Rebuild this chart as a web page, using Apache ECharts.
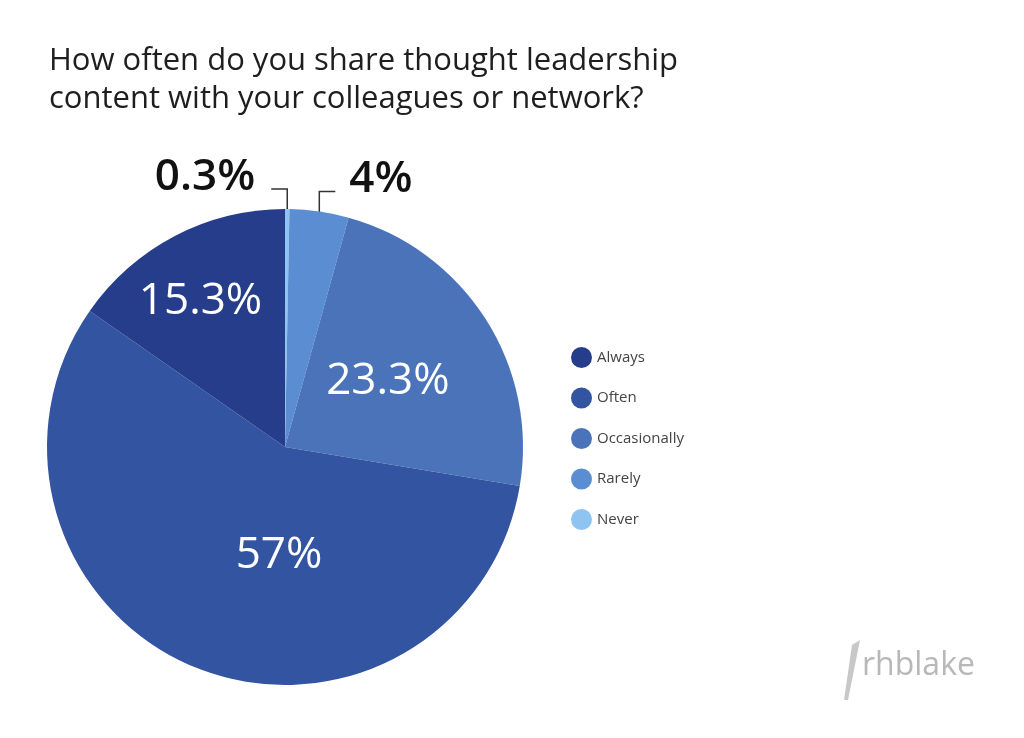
<!DOCTYPE html>
<html><head><meta charset="utf-8">
<script src="https://cdn.jsdelivr.net/npm/echarts@6/dist/echarts.min.js"></script>
<style>html,body{margin:0;padding:0;background:#fff}#c{width:1024px;height:738px}</style>
</head><body><div id="c"></div>
<script>
const categories = ['Never','Rarely','Occasionally','Often','Always'];
const values = [0.3, 4, 23.3, 57, 15.3];
const labels = ['0.3%','4%','23.3%','57%','15.3%'];
const legendOrder = ['Always','Often','Occasionally','Rarely','Never'];
const colors = {Never:'#8ec3f2',Rarely:'#5b8dd2',Occasionally:'#4a73ba',Often:'#3354a0',Always:'#253d8a'};
const chart = echarts.init(document.getElementById('c'));
const F = '"Open Sans", Lato, sans-serif';
const shifts = {2:[0,0],3:[40,-5],4:[-28,-37]};
chart.setOption({
  animation:false,
  title:{text:'How often do you share thought leadership\ncontent with your colleagues or network?',left:44,top:37,
    textStyle:{fontFamily:F,fontSize:31,fontWeight:'normal',color:'#1e1e1e',lineHeight:38}},
  legend:{data:legendOrder,orient:'vertical',left:566,top:342,itemGap:19.5,icon:'circle',itemWidth:21,itemHeight:21,
    textStyle:{fontFamily:F,fontSize:15,color:'#444'}},
  graphic:[{type:'text',left:862,top:650,style:{text:'rhblake',font:'32px '+F,fill:'#b8b8b8'}},
    {type:'polygon',shape:{points:[[852,645],[860,640],[848,700],[844,700]]},style:{fill:'#c8c8c8'}}],
  series:[{type:'pie',center:[285,447],radius:238,startAngle:90,clockwise:true,
    data:categories.map((c,i)=>{
      const small = values[i] < 5;
      return {name:c,value:values[i],itemStyle:{color:colors[c]},
        label:{show:true,formatter:labels[i],position:small?'outside':'inside',
          fontFamily:F,fontSize:44,color:small?'#111':'#fff',fontWeight:small?600:'normal'},
        labelLine:{show:small,lineStyle:{color:'#333',width:1.5}}};
    }),
    labelLayout:function(p){
      const pts = p.labelLinePoints;
      const p0 = pts ? pts[0] : null;
      if(p.dataIndex===0 && p0){
        return {x:p0[0]-32,y:p0[1]-32,align:'right',verticalAlign:'middle',
          labelLinePoints:[p0,[p0[0],p0[1]-20],[p0[0]-16,p0[1]-20]]};
      }
      if(p.dataIndex===1 && p0){
        return {x:p0[0]+30,y:p0[1]-32,align:'left',verticalAlign:'middle',
          labelLinePoints:[[p0[0],p0[1]+18],[p0[0],p0[1]-20],[p0[0]+16,p0[1]-20]]};
      }
      const s = shifts[p.dataIndex];
      if(s) return {dx:s[0],dy:s[1]};
      return {};
    }
  }]
});
</script></body></html>
